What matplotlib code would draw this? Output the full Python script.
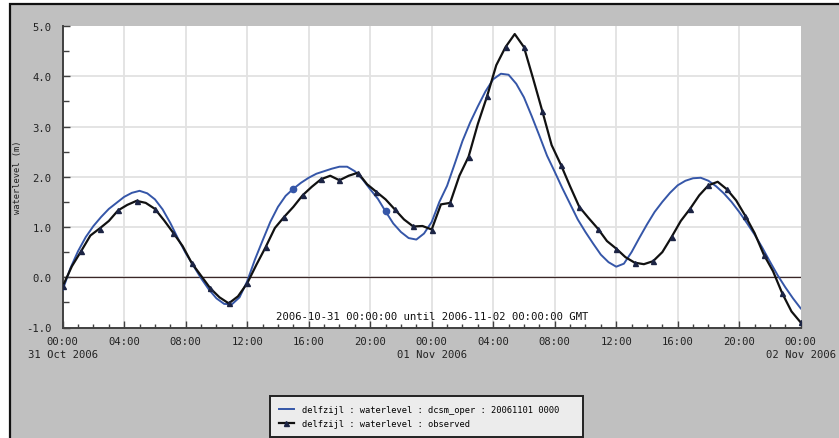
import numpy as np
import matplotlib
matplotlib.use("Agg")
import matplotlib.pyplot as plt
from matplotlib.patches import Rectangle
from matplotlib.ticker import MultipleLocator, FixedLocator

# ---------------- data ----------------
# model (dcsm_oper) forecast, every 0.5 h from 2006-10-31 00:00
model_hours = [i * 0.5 for i in range(97)]
model_level = [
    -0.25, 0.18, 0.52, 0.80, 1.02, 1.20, 1.36, 1.48, 1.60, 1.68,
    1.72, 1.67, 1.55, 1.35, 1.08, 0.77, 0.48, 0.23, -0.02, -0.24,
    -0.42, -0.53, -0.54, -0.40, -0.08, 0.35, 0.73, 1.10, 1.40, 1.62,
    1.76, 1.88, 1.98, 2.06, 2.11, 2.16, 2.20, 2.20, 2.11, 1.95,
    1.75, 1.56, 1.31, 1.07, 0.90, 0.78, 0.75, 0.87, 1.10, 1.50,
    1.82, 2.26, 2.71, 3.08, 3.40, 3.70, 3.94, 4.05, 4.03, 3.85,
    3.58, 3.21, 2.82, 2.42, 2.10, 1.77, 1.46, 1.15, 0.90, 0.67,
    0.45, 0.30, 0.21, 0.27, 0.50, 0.78, 1.05, 1.30, 1.50, 1.68,
    1.83, 1.92, 1.97, 1.98, 1.92, 1.81, 1.67, 1.50, 1.30, 1.08,
    0.85, 0.59, 0.31, 0.04, -0.20, -0.42, -0.62,
]
model_dot_hours = [15.0, 21.0]

# observed, every 0.6 h
obs_hours = [round(i * 0.6, 1) for i in range(81)]
obs_level = [
    -0.18, 0.22, 0.52, 0.83, 0.97, 1.12, 1.33, 1.44, 1.52, 1.48,
    1.36, 1.13, 0.88, 0.62, 0.28, 0.03, -0.22, -0.40, -0.52, -0.38,
    -0.12, 0.25, 0.60, 0.98, 1.20, 1.40, 1.63, 1.80, 1.95, 2.02,
    1.93, 2.02, 2.08, 1.85, 1.70, 1.55, 1.35, 1.15, 1.01, 1.02,
    0.95, 1.45, 1.48, 2.02, 2.40, 3.05, 3.60, 4.22, 4.58, 4.84,
    4.58, 3.95, 3.30, 2.63, 2.24, 1.81, 1.40, 1.18, 0.97, 0.72,
    0.57, 0.40, 0.29, 0.26, 0.32, 0.50, 0.80, 1.12, 1.36, 1.63,
    1.83, 1.90, 1.75, 1.53, 1.22, 0.88, 0.45, 0.12, -0.32, -0.68,
    -0.90,
]

x_major_hours = [0, 4, 8, 12, 16, 20, 24, 28, 32, 36, 40, 44, 48]
x_major_labels = ["00:00\n31 Oct 2006", "04:00", "08:00", "12:00", "16:00", "20:00",
                  "00:00\n01 Nov 2006", "04:00", "08:00", "12:00", "16:00", "20:00",
                  "00:00\n02 Nov 2006"]
y_ticks = [-1.0, 0.0, 1.0, 2.0, 3.0, 4.0, 5.0]

legend_model = "delfzijl : waterlevel : dcsm_oper : 20061101 0000"
legend_obs = "delfzijl : waterlevel : observed"
period_text = "2006-10-31 00:00:00 until 2006-11-02 00:00:00 GMT"
ylabel = "waterlevel (m)"

# ---------------- figure ----------------
W, H = 839, 439
mono = "DejaVu Sans Mono"
fig = plt.figure(figsize=(W / 100, H / 100), dpi=100, facecolor="white")
fig.patches.append(Rectangle((10 / W, -0.02), 1.05, 1 - 5 / H + 0.02,
                             transform=fig.transFigure, facecolor="#c0c0c0",
                             edgecolor="#111111", linewidth=1.6, zorder=-10))

left, right = 62.7 / W, 800.7 / W
top, bottom = 1 - 27 / H, 1 - 328.5 / H
ax = fig.add_axes([left, bottom, right - left, top - bottom])
ax.set_facecolor("white")

ax.set_xlim(0, 48)
ax.set_ylim(-1.0, 5.0)

# grid
for h in x_major_hours[1:-1]:
    ax.axvline(h, color="#e2e2e2", lw=1.3, zorder=0)
for v in y_ticks[1:-1]:
    ax.axhline(v, color="#e2e2e2", lw=1.3, zorder=0)
ax.axhline(0.0, color="#3a2626", lw=0.9, zorder=1)

ax.plot(model_hours, model_level, color="#3556a8", lw=1.4, zorder=3,
        label=legend_model)
dot_idx = [model_hours.index(h) for h in model_dot_hours]
ax.plot([model_hours[i] for i in dot_idx], [model_level[i] for i in dot_idx],
        ls="none", marker="o", ms=4.5, color="#3556a8", zorder=3)
ax.plot(obs_hours, obs_level, color="#111111", lw=1.6, zorder=4,
        marker="^", ms=3.6, markevery=2, mfc="#1c2444", mec="#1c2444",
        label=legend_obs)

for s in ["top", "right"]:
    ax.spines[s].set_visible(False)
for s in ["left", "bottom"]:
    ax.spines[s].set_color("#404040")
    ax.spines[s].set_linewidth(1.4)

ax.xaxis.set_major_locator(FixedLocator(x_major_hours))
ax.set_xticklabels(x_major_labels, fontfamily=mono, fontsize=7.6,
                   linespacing=1.45, color="#222222")
ax.xaxis.set_minor_locator(MultipleLocator(1))
ax.set_yticks(y_ticks)
ax.set_yticklabels([f"{v:.1f}" for v in y_ticks], fontfamily=mono,
                   fontsize=7.6, color="#222222")
ax.yaxis.set_minor_locator(MultipleLocator(0.5))
ax.tick_params(axis="both", which="both", direction="in", color="#404040",
               width=1.0)
ax.tick_params(axis="x", which="major", length=5, pad=6)
ax.tick_params(axis="x", which="minor", length=3)
ax.tick_params(axis="y", which="major", length=5, pad=8)
ax.tick_params(axis="y", which="minor", length=4)

fig.text(18 / W, 1 - 177 / H, ylabel, rotation=90, ha="center", va="center",
         fontfamily=mono, fontsize=6.3, color="#222222")
ax.text(24, -0.78, period_text, ha="center", va="center", fontfamily=mono,
        fontsize=7.7, color="#111111", zorder=5)

leg = ax.legend(loc="upper left", mode="expand",
                bbox_to_anchor=(270 / W, 1 - 438 / H, 313 / W, 41 / H),
                bbox_transform=fig.transFigure, borderaxespad=0,
                prop={"family": mono, "size": 6.3}, frameon=True,
                fancybox=False, facecolor="#ececec", edgecolor="#222222",
                framealpha=1, handlelength=1.7, handletextpad=0.9,
                borderpad=1.0, labelspacing=0.6, numpoints=1)
leg.get_frame().set_linewidth(1.4)

fig.savefig("out.png", dpi=100, facecolor=fig.get_facecolor())
